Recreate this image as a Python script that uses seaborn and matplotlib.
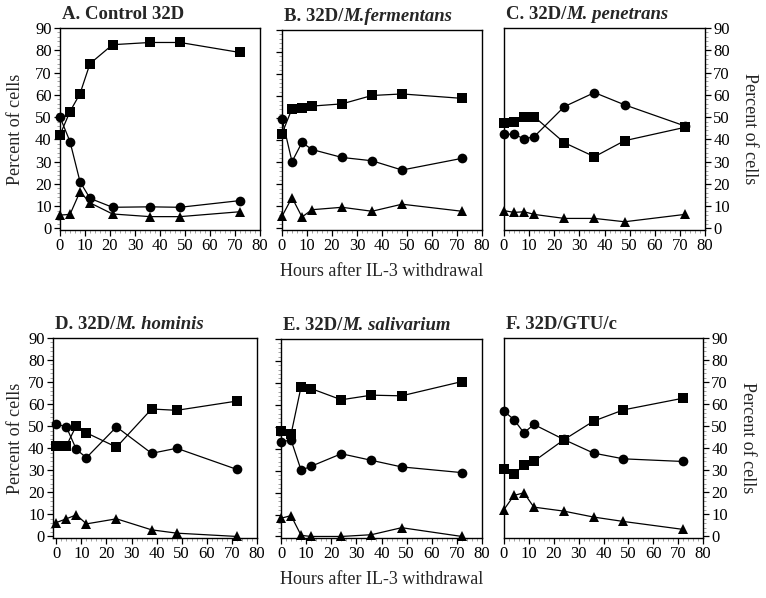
import matplotlib
matplotlib.use("Agg")
import matplotlib.pyplot as plt
from matplotlib.ticker import MultipleLocator
import seaborn as sns

# hours after IL-3 withdrawal
hours = [0, 4, 8, 12, 24, 36, 48, 72]
hours_a = [0, 4, 8, 12, 21, 36, 48, 72]
hours_d = [0, 4, 8, 12, 24, 38, 48, 72]

# percent of cells (square / circle / triangle series)
a_sq = [42, 52.5, 60.5, 74, 82.5, 83.5, 83.5, 79]
a_ci = [50, 39, 21, 13.5, 9.5, 9.7, 9.5, 12.5]
a_tr = [6, 6.3, 16.5, 11.5, 6.5, 5.3, 5.3, 7.5]

b_sq = [43, 54.3, 54.6, 55.5, 56.5, 60.3, 61, 59]
b_ci = [49.8, 30.3, 39, 35.8, 32.2, 30.7, 26.5, 31.8]
b_tr = [5.5, 14, 5.2, 8.5, 9.6, 7.8, 11, 7.8]

c_sq = [47.2, 47.7, 50, 50.2, 38.5, 32.2, 39.4, 45.4]
c_ci = [42.3, 42.3, 40.2, 41.2, 54.7, 61, 55.5, 46]
c_tr = [8, 7.2, 7.5, 6.3, 4.5, 4.5, 3, 6.3]

d_sq = [41, 41, 50.3, 47, 40.5, 57.8, 57.2, 61.4]
d_ci = [51, 49.7, 39.5, 35.7, 49.7, 37.7, 40, 30.4]
d_tr = [6.3, 8, 9.8, 5.7, 8, 3, 1.5, 0]

e_sq = [48.1, 46.6, 68.3, 67.4, 62.3, 64.4, 64.1, 70.6]
e_ci = [43.1, 44, 30.2, 32, 37.7, 34.7, 31.7, 29.1]
e_tr = [8.3, 9.5, 0.5, 0, 0, 0.8, 4, 0]

f_sq = [30.4, 28.1, 32.5, 34.1, 43.8, 52.3, 57.4, 62.7]
f_ci = [56.8, 53, 47, 50.8, 44, 37.8, 35.2, 34]
f_tr = [12.2, 18.6, 19.8, 13.3, 11.5, 8.8, 6.8, 3.2]

titles = [("A. Control 32D", ""), ("B. 32D/", "M.fermentans"), ("C. 32D/", "M. penetrans"),
          ("D. 32D/", "M. hominis"), ("E. 32D/", "M. salivarium"), ("F. 32D/GTU/c", "")]

sns.set_style("white")
plt.rcParams["font.family"] = ["Liberation Serif", "DejaVu Serif"]

W, H = 766, 598
fig = plt.figure(figsize=(W / 100, H / 100), dpi=100)

# pixel boxes: left, top, right, bottom
boxes = [(60, 28, 260, 230), (282, 30, 482, 230), (504, 28, 705, 230),
         (53, 338, 257, 538), (281, 339, 482, 538), (504, 338, 703, 538)]

panels = [(hours_a, a_sq, a_ci, a_tr), (hours, b_sq, b_ci, b_tr), (hours, c_sq, c_ci, c_tr),
          (hours_d, d_sq, d_ci, d_tr), (hours, e_sq, e_ci, e_tr), (hours, f_sq, f_ci, f_tr)]

for i, ((l, t, r, b), (x, sq, ci, tr)) in enumerate(zip(boxes, panels)):
    ax = fig.add_axes([l / W, 1 - b / H, (r - l) / W, (b - t) / H])
    kw = dict(ax=ax, color="black", linewidth=0.9, clip_on=False, markeredgewidth=0)
    sns.lineplot(x=x, y=ci, marker="o", markersize=7, **kw)
    sns.lineplot(x=x, y=tr, marker="^", markersize=7, **kw)
    sns.lineplot(x=x, y=sq, marker="s", markersize=7.5, **kw)

    ax.set_xlim(-1.3 if i == 3 else 0, 80)
    ax.set_ylim(-0.7, 90)
    ax.xaxis.set_major_locator(MultipleLocator(10))
    ax.xaxis.set_minor_locator(MultipleLocator(2))
    ax.yaxis.set_major_locator(MultipleLocator(10))
    ax.yaxis.set_minor_locator(MultipleLocator(2))
    for s in ax.spines.values():
        s.set_color("black")
        s.set_linewidth(1.0)
    ax.tick_params(axis="both", which="major", direction="out", length=4, width=0.9,
                   labelsize=12, colors="black", pad=2)
    ax.tick_params(axis="both", which="minor", direction="out", length=2, width=0.5,
                   colors="0.5")
    ax.tick_params(axis="x", which="both", bottom=True, top=False)
    col = i % 3
    if col == 0:
        ax.tick_params(axis="y", which="both", left=True, right=False)
        ax.set_ylabel("Percent of cells", fontsize=13, labelpad=8 if i == 0 else 3)
    elif col == 1:
        ax.tick_params(axis="y", which="both", left=True, right=False, labelleft=False)
        ax.set_ylabel("")
    else:
        ax.yaxis.tick_right()
        ax.yaxis.set_label_position("right")
        ax.tick_params(axis="y", which="both", left=False, right=True)
        ax.set_ylabel("Percent of cells", fontsize=13, rotation=270, labelpad=20)
    if col == 1:
        ax.set_xlabel("Hours after IL-3 withdrawal", fontsize=13, labelpad=6)
    else:
        ax.set_xlabel("")

    # title: bold prefix + bold italic species name
    head, species = titles[i]
    t1 = ax.text(0.01, 1.025, head, transform=ax.transAxes, fontsize=13.5,
                 fontweight="bold", ha="left", va="bottom")
    if species:
        ax.annotate(species, xy=(1, 0), xycoords=t1, fontsize=13.5, fontweight="bold",
                    fontstyle="italic", ha="left", va="bottom")

fig.savefig("out.png", dpi=100, facecolor="white")
